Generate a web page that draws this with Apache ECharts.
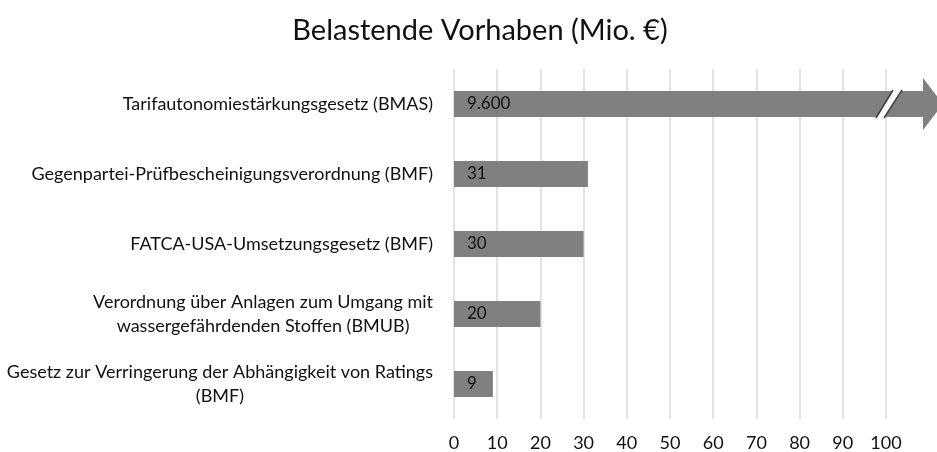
<!DOCTYPE html>
<html>
<head>
<meta charset="utf-8">
<script src="https://cdn.jsdelivr.net/npm/echarts@6/dist/echarts.min.js"></script>
<style>
  html, body { margin: 0; padding: 0; background: #fff; }
  #chart { width: 937px; height: 452px; }
</style>
</head>
<body>
<div id="chart"></div>
<script>
const categories = [
    'Tarifautonomiestärkungsgesetz (BMAS)',
    'Gegenpartei-Prüfbescheinigungsverordnung (BMF)',
    'FATCA-USA-Umsetzungsgesetz (BMF)',
    'Verordnung über Anlagen zum Umgang mit\nwassergefährdenden Stoffen (BMUB)',
    'Gesetz zur Verringerung der Abhängigkeit von Ratings\n(BMF)'
]
const values = [9600, 31, 30, 20, 9]
const xTicks = [0, 10, 20, 30, 40, 50, 60, 70, 80, 90, 100]

const FONT = 'Lato'
const BAR_COLOR = '#808080'

// 9600 -> "9.600"
const fmtDe = (v) => String(v).replace(/\B(?=(\d{3})+(?!\d))/g, '.')

const chart = echarts.init(document.getElementById('chart'))

let option = {
    animation: false,
    title: {
        text: 'Belastende Vorhaben (Mio. €)',
        left: 475,
        top: 11,
        textAlign: 'center',
        textStyle: { fontFamily: FONT, fontSize: 29, fontWeight: 'normal', color: '#111' }
    },
    grid: { left: 454, right: 51, top: 69, bottom: 33 },
    xAxis: {
        type: 'value',
        min: xTicks[0],
        max: xTicks[xTicks.length - 1],
        interval: 10,
        axisLine: { show: false },
        axisTick: { show: false },
        axisLabel: { fontFamily: FONT, fontSize: 18, color: '#111', margin: 15 },
        splitLine: { show: true, lineStyle: { color: '#d9d9d9', width: 1.5 } }
    },
    yAxis: {
        type: 'category',
        inverse: true,
        data: categories,
        axisLine: { show: false },
        axisTick: { show: false },
        axisLabel: {
            fontFamily: FONT, fontSize: 18, color: '#111', margin: 21, lineHeight: 24,
            formatter: (v) => v.split('\n').map(s => '{c|' + s + '}').join('\n'),
            rich: { c: { align: 'center', fontFamily: FONT, fontSize: 18, color: '#111', lineHeight: 24 } }
        }
    },
    series: [{
        type: 'bar',
        data: values,
        barWidth: 26,
        clip: true,
        itemStyle: { color: BAR_COLOR },
        label: {
            show: true,
            position: 'insideLeft',
            distance: 13,
            fontFamily: FONT,
            fontSize: 17,
            color: '#111',
            formatter: (p) => fmtDe(p.value)
        }
    }]
}

chart.setOption(option)

// broken-axis arrow for the value that runs off the scale
const p = chart.convertToPixel({ xAxisIndex: 0 }, xTicks[xTicks.length - 1])
const yc = chart.convertToPixel({ yAxisIndex: 0 }, categories[0])
const h = 13
chart.setOption({
    graphic: [
        {
            type: 'polygon',
            z: 100,
            shape: { points: [
                [p - 20, yc - h], [p + 37, yc - h], [p + 37, yc - 26], [p + 57, yc],
                [p + 37, yc + 26], [p + 37, yc + h], [p - 20, yc + h]
            ] },
            style: { fill: BAR_COLOR }
        },
        {
            type: 'polygon',
            z: 101,
            shape: { points: [[p + 7, yc - h], [p + 16, yc - h], [p - 1, yc + h], [p - 9, yc + h]] },
            style: { fill: '#fff' }
        },
        {
            type: 'line',
            z: 102,
            shape: { x1: p - 10, y1: yc + h + 1, x2: p + 7, y2: yc - h - 1 },
            style: { stroke: '#404040', lineWidth: 1.5 }
        },
        {
            type: 'line',
            z: 102,
            shape: { x1: p - 2, y1: yc + h + 1, x2: p + 16, y2: yc - h - 1 },
            style: { stroke: '#404040', lineWidth: 1.5 }
        }
    ]
})
</script>
</body>
</html>
